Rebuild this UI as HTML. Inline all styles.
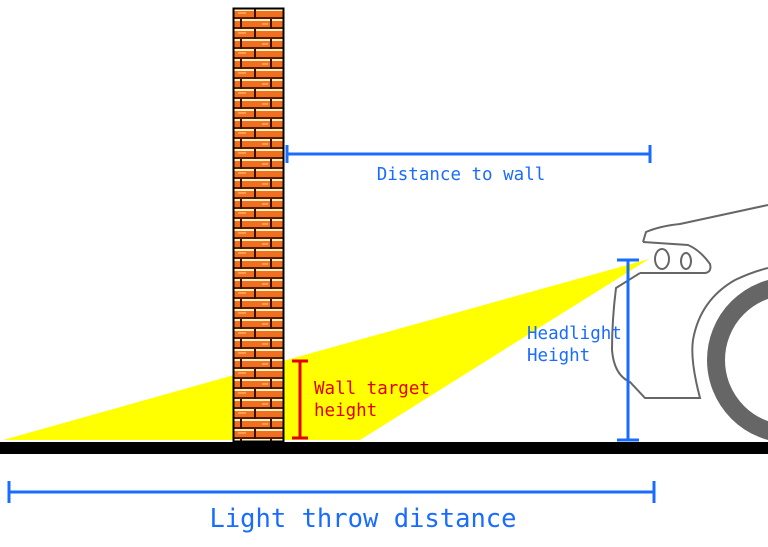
<!DOCTYPE html>
<html><head><meta charset="utf-8"><style>
html,body{margin:0;padding:0;background:#fff;}
svg{display:block;}
text{font-family:"DejaVu Sans Mono","Liberation Mono",monospace;}
</style></head><body>
<svg width="768" height="547" viewBox="0 0 768 547" xmlns="http://www.w3.org/2000/svg">
<defs>
<pattern id="brick" x="234" y="9" width="48" height="20" patternUnits="userSpaceOnUse">
<rect width="48" height="20" fill="#f07020"/>
<rect x="0" y="0" width="48" height="2" fill="#fff4c0"/>
<rect x="0" y="10" width="48" height="2" fill="#fff4c0"/>
<rect x="0" y="8" width="48" height="2" fill="#5a1a00"/>
<rect x="0" y="18" width="48" height="2" fill="#5a1a00"/>
<rect x="20" y="0" width="2" height="10" fill="#3a1000"/>
<rect x="6" y="10" width="2" height="10" fill="#3a1000"/>
<rect x="36" y="10" width="2" height="10" fill="#3a1000"/>
<rect x="4" y="3" width="8" height="2" fill="#ffa050"/>
<rect x="28" y="14" width="6" height="2" fill="#ffa050"/>
</pattern>
</defs>
<polygon points="3,440 234,375 234,440" fill="#ffff00"/>
<polygon points="283,361 649,259 360,440 283,440" fill="#ffff00"/>
<rect x="233.5" y="8.5" width="50" height="433" fill="url(#brick)" stroke="#000" stroke-width="2"/>
<rect x="0" y="442" width="768" height="12" fill="#000"/>
<g fill="none" stroke="#666" stroke-width="2">
<path d="M643,242 L646,232 Q660,226 680,224 L768,205"/>
<path d="M643,242 L688,245 Q700,250 710,264 Q712,272 705,273 L640,273"/>
<ellipse cx="662" cy="259" rx="7" ry="10"/>
<ellipse cx="686" cy="261" rx="5" ry="8"/>
<path d="M640,273 L616,288 Q612,320 612,350 Q614,375 630,382 L645,398 L700,398 Q690,360 693,340 Q700,300 735,280 Q752,272 768,268"/>
</g>
<circle cx="790" cy="360" r="74" fill="none" stroke="#666" stroke-width="18"/>
<g stroke="#1a6cff" stroke-width="3">
<line x1="287" y1="154" x2="650" y2="154"/>
<line x1="287" y1="145" x2="287" y2="163"/>
<line x1="650" y1="145" x2="650" y2="163"/>
<line x1="628" y1="260" x2="628" y2="440"/>
<line x1="617" y1="260" x2="639" y2="260"/>
<line x1="617" y1="440" x2="639" y2="440"/>
<line x1="9" y1="492" x2="654" y2="492"/>
<line x1="9" y1="481" x2="9" y2="503"/>
<line x1="654" y1="481" x2="654" y2="503"/>
</g>
<g stroke="#e00000" stroke-width="3">
<line x1="300" y1="361" x2="300" y2="438"/>
<line x1="292" y1="361" x2="308" y2="361"/>
<line x1="292" y1="438" x2="308" y2="438"/>
</g>
<text x="461" y="180" font-size="17.5" fill="#1a6cff" text-anchor="middle">Distance to wall</text>
<text x="527" y="339" font-size="17.5" fill="#1a6cff">Headlight</text>
<text x="527" y="361" font-size="17.5" fill="#1a6cff">Height</text>
<text x="314" y="394" font-size="17.5" fill="#e00000">Wall target</text>
<text x="314" y="416" font-size="17.5" fill="#e00000">height</text>
<text x="363" y="527" font-size="25.5" fill="#1a6cff" text-anchor="middle">Light throw distance</text>
</svg>
</body></html>
